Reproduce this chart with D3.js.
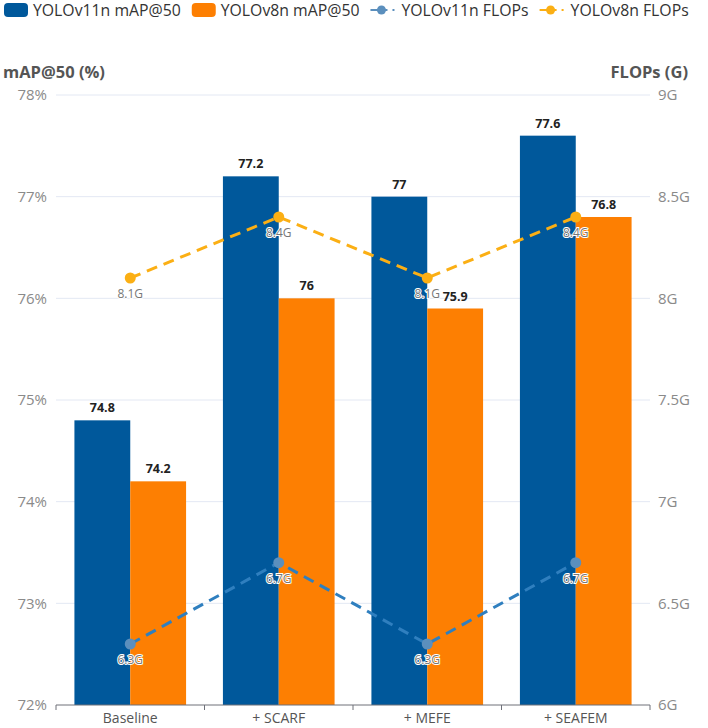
<!DOCTYPE html>
<html>
<head>
<meta charset="utf-8">
<script src="https://cdn.jsdelivr.net/npm/d3@7"></script>
<style>
  body { margin: 0; background: #fff; }
  text { font-family: "Open Sans", "Noto Sans", sans-serif; }
</style>
</head>
<body>
<div id="chart"></div>
<script>
const categories = ['Baseline', '+ SCARF', '+ MEFE', '+ SEAFEM'];
const v11Map = [74.8, 77.2, 77, 77.6];
const v8Map = [74.2, 76, 75.9, 76.8];
const v11Flops = [6.3, 6.7, 6.3, 6.7];
const v8Flops = [8.1, 8.4, 8.1, 8.4];
const leftTicks = [72, 73, 74, 75, 76, 77, 78];
const rightTicks = [6, 6.5, 7, 7.5, 8, 8.5, 9];

const width = 708, height = 728;
const margin = { top: 95, right: 58, bottom: 23, left: 56 };

const colors = {
    v11Bar: '#00589b',
    v8Bar: '#fd7f02',
    v11Line: '#2f7fbf',
    v11Dot: '#5b8fbd',
    v8Line: '#fbaf14'
};

const svg = d3.select('#chart')
    .append('svg')
    .attr('width', width)
    .attr('height', height);

const x = d3.scaleBand()
    .domain(categories)
    .range([margin.left, width - margin.right]);

const xInner = d3.scaleBand()
    .domain(['v11', 'v8'])
    .range([0, x.bandwidth()])
    .paddingOuter(0.33)
    .paddingInner(0);

const yLeft = d3.scaleLinear()
    .domain([72, 78])
    .range([height - margin.bottom, margin.top]);

const yRight = d3.scaleLinear()
    .domain([6, 9])
    .range([height - margin.bottom, margin.top]);

// Grid lines
svg.append('g')
    .selectAll('line')
    .data(leftTicks.slice(1))
    .join('line')
    .attr('x1', margin.left)
    .attr('x2', width - margin.right)
    .attr('y1', d => yLeft(d))
    .attr('y2', d => yLeft(d))
    .attr('stroke', '#e3e8f3')
    .attr('stroke-width', 1);

// Left axis labels
svg.append('g')
    .selectAll('text')
    .data(leftTicks)
    .join('text')
    .attr('x', 47)
    .attr('y', d => yLeft(d))
    .attr('dy', '0.35em')
    .attr('text-anchor', 'end')
    .attr('fill', '#8a8a8a')
    .style('font-size', '15px')
    .text(d => d + '%');

// Right axis labels
svg.append('g')
    .selectAll('text')
    .data(rightTicks)
    .join('text')
    .attr('x', 658)
    .attr('y', d => yRight(d))
    .attr('dy', '0.35em')
    .attr('text-anchor', 'start')
    .attr('fill', '#8a8a8a')
    .style('font-size', '15px')
    .text(d => d + 'G');

// Axis titles
svg.append('text')
    .attr('x', 3)
    .attr('y', 78)
    .attr('fill', '#555')
    .style('font-size', '16.5px')
    .style('font-weight', 'bold')
    .text('mAP@50 (%)');

svg.append('text')
    .attr('x', 688)
    .attr('y', 78)
    .attr('text-anchor', 'end')
    .attr('fill', '#555')
    .style('font-size', '16.5px')
    .style('font-weight', 'bold')
    .text('FLOPs (G)');

// Bars
const rows = categories.map((c, i) => ({ cat: c, v11: v11Map[i], v8: v8Map[i] }));

const groups = svg.append('g')
    .selectAll('g')
    .data(rows)
    .join('g')
    .attr('transform', d => `translate(${x(d.cat)},0)`);

const barData = d => [
    { key: 'v11', value: d.v11, color: colors.v11Bar },
    { key: 'v8', value: d.v8, color: colors.v8Bar }
];

groups.selectAll('rect')
    .data(barData)
    .join('rect')
    .attr('x', d => xInner(d.key))
    .attr('width', xInner.bandwidth())
    .attr('y', d => yLeft(d.value))
    .attr('height', d => yLeft(72) - yLeft(d.value))
    .attr('fill', d => d.color);

groups.selectAll('text')
    .data(barData)
    .join('text')
    .attr('x', d => xInner(d.key) + xInner.bandwidth() / 2)
    .attr('y', d => yLeft(d.value) - 8)
    .attr('text-anchor', 'middle')
    .attr('fill', '#222')
    .style('font-size', '12.5px')
    .style('font-weight', 'bold')
    .text(d => d.value);

// X axis
const xAxis = svg.append('g')
    .attr('transform', `translate(0,${height - margin.bottom})`);

xAxis.append('line')
    .attr('x1', margin.left)
    .attr('x2', width - margin.right)
    .attr('stroke', '#6e7079')
    .attr('stroke-width', 1);

xAxis.selectAll('.tick')
    .data(categories.concat(['end']))
    .join('line')
    .attr('class', 'tick')
    .attr('x1', (d, i) => margin.left + i * x.bandwidth())
    .attr('x2', (d, i) => margin.left + i * x.bandwidth())
    .attr('y1', 0)
    .attr('y2', 5)
    .attr('stroke', '#6e7079');

xAxis.selectAll('text')
    .data(categories)
    .join('text')
    .attr('x', d => x(d) + x.bandwidth() / 2)
    .attr('y', 18)
    .attr('text-anchor', 'middle')
    .attr('fill', '#555')
    .style('font-size', '14px')
    .text(d => d);

// FLOPs lines
const cx = d => x(d) + x.bandwidth() / 2;

function drawLine(values, lineColor, dotColor) {
    const pts = categories.map((c, i) => ({ cat: c, value: values[i] }));
    const line = d3.line()
        .x(d => cx(d.cat))
        .y(d => yRight(d.value));

    svg.append('path')
        .datum(pts)
        .attr('d', line)
        .attr('fill', 'none')
        .attr('stroke', lineColor)
        .attr('stroke-width', 3)
        .attr('stroke-dasharray', '11,7');

    svg.append('g')
        .selectAll('circle')
        .data(pts)
        .join('circle')
        .attr('cx', d => cx(d.cat))
        .attr('cy', d => yRight(d.value))
        .attr('r', 5.5)
        .attr('fill', dotColor);

    svg.append('g')
        .selectAll('text')
        .data(pts)
        .join('text')
        .attr('x', d => cx(d.cat))
        .attr('y', d => yRight(d.value) + 20)
        .attr('text-anchor', 'middle')
        .attr('fill', '#777')
        .attr('stroke', '#fff')
        .attr('stroke-width', 2)
        .attr('paint-order', 'stroke')
        .style('font-size', '12px')
        .text(d => d.value + 'G');
}

drawLine(v8Flops, colors.v8Line, colors.v8Line);
drawLine(v11Flops, colors.v11Line, colors.v11Dot);

// Legend: items chained left to right from measured text widths
const legendItems = [
    { label: 'YOLOv11n mAP@50', type: 'bar', color: colors.v11Bar },
    { label: 'YOLOv8n mAP@50', type: 'bar', color: colors.v8Bar },
    { label: 'YOLOv11n FLOPs', type: 'line', color: colors.v11Dot },
    { label: 'YOLOv8n FLOPs', type: 'line', color: colors.v8Line }
];

const legend = svg.append('g').attr('transform', 'translate(0,10)');
let lx = 4;

legendItems.forEach(item => {
    const g = legend.append('g').attr('transform', `translate(${lx},0)`);
    let iconW;
    if (item.type === 'bar') {
        iconW = 24;
        g.append('rect')
            .attr('x', 0)
            .attr('y', -7)
            .attr('width', iconW)
            .attr('height', 14)
            .attr('rx', 4)
            .attr('fill', item.color);
    } else {
        iconW = 26;
        g.append('line')
            .attr('x1', 0)
            .attr('x2', iconW)
            .attr('stroke', item.color)
            .attr('stroke-width', 2)
            .attr('stroke-dasharray', '17,5,2,10');
        g.append('circle')
            .attr('cx', 11)
            .attr('r', 4.5)
            .attr('fill', item.color);
    }
    const t = g.append('text')
        .attr('x', iconW + 5)
        .attr('y', 6)
        .attr('fill', '#333')
        .style('font-size', '15.8px')
        .text(item.label);
    lx += iconW + 5 + t.node().getComputedTextLength() + 11;
});
</script>
</body>
</html>
